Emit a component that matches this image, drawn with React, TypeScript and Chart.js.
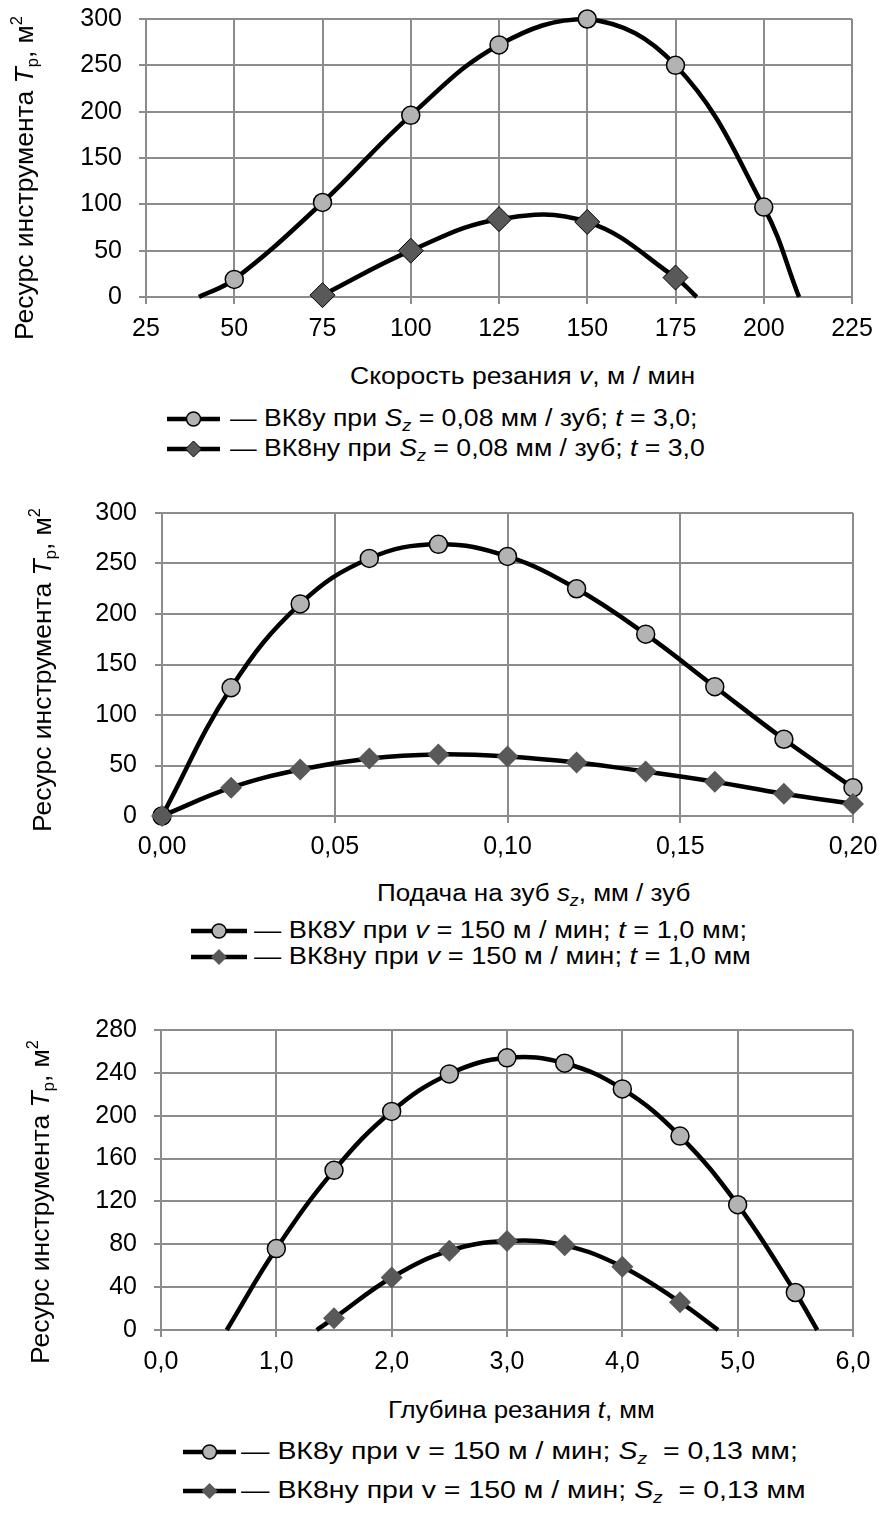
import React, { useEffect, useLayoutEffect, useRef, useState } from "react";
import { Chart, registerables } from "chart.js";

Chart.register(...registerables);

const FONT = "'Liberation Sans', Arial, Helvetica, sans-serif";
const GRID = "#8c8c8c";
const CIRCLE_FILL = "#b3b3b3";
const DIAMOND_FILL = "#595959";

// ---------- Chart 1: cutting speed ----------
const speedTicks = [25, 50, 75, 100, 125, 150, 175, 200, 225];
const speedTickLabels = ["25", "50", "75", "100", "125", "150", "175", "200", "225"];
const life300Ticks = [0, 50, 100, 150, 200, 250, 300];
const life300TickLabels = ["0", "50", "100", "150", "200", "250", "300"];

const speedVK8u = [50, 75, 100, 125, 150, 175, 200];
const lifeSpeedVK8u = [19, 102, 196, 272, 300, 250, 97];
const speedVK8uEndsX = [40, 210];
const speedVK8uEndsY = [0, 0];

const speedVK8nu = [75, 100, 125, 150, 175];
const lifeSpeedVK8nu = [2, 50, 84, 81, 21];
const speedVK8nuEndsX = [null, 181];
const speedVK8nuEndsY = [null, 0];

// ---------- Chart 2: feed per tooth ----------
const feedTicks = [0, 0.05, 0.1, 0.15, 0.2];
const feedTickLabels = ["0,00", "0,05", "0,10", "0,15", "0,20"];

const feedSz = [0, 0.02, 0.04, 0.06, 0.08, 0.1, 0.12, 0.14, 0.16, 0.18, 0.2];
const lifeFeedVK8U = [0, 127, 210, 255, 269, 257, 225, 180, 128, 76, 28];
const lifeFeedVK8nu = [0, 28, 46, 57, 61, 59, 53, 44, 34, 22, 12];

// ---------- Chart 3: depth of cut ----------
const depthTicks = [0, 1, 2, 3, 4, 5, 6];
const depthTickLabels = ["0,0", "1,0", "2,0", "3,0", "4,0", "5,0", "6,0"];
const life280Ticks = [0, 40, 80, 120, 160, 200, 240, 280];
const life280TickLabels = ["0", "40", "80", "120", "160", "200", "240", "280"];

const depthVK8u = [1.0, 1.5, 2.0, 2.5, 3.0, 3.5, 4.0, 4.5, 5.0, 5.5];
const lifeDepthVK8u = [76, 149, 204, 239, 254, 249, 225, 181, 117, 35];
const depthVK8uEndsX = [0.57, 5.69];
const depthVK8uEndsY = [0, 0];

const depthVK8nu = [1.5, 2.0, 2.5, 3.0, 3.5, 4.0, 4.5];
const lifeDepthVK8nu = [11, 49, 74, 83, 79, 59, 26];
const depthVK8nuEndsX = [1.35, 4.83];
const depthVK8nuEndsY = [0, 0];

type Ends = (number | null)[];

function buildSeries(
  xs: number[],
  ys: number[],
  endsX: Ends,
  endsY: Ends,
  kind: "circle" | "diamond",
  radius: number,
  outline: boolean
) {
  const data: { x: number; y: number }[] = [];
  const radii: number[] = [];
  if (endsX[0] !== null && endsY[0] !== null) {
    data.push({ x: endsX[0] as number, y: endsY[0] as number });
    radii.push(0);
  }
  xs.forEach((x, i) => {
    data.push({ x, y: ys[i] });
    radii.push(radius);
  });
  if (endsX[1] !== null && endsY[1] !== null) {
    data.push({ x: endsX[1] as number, y: endsY[1] as number });
    radii.push(0);
  }
  return {
    data,
    showLine: true,
    tension: 0.4,
    borderColor: "#000",
    borderWidth: 4.5,
    fill: false,
    clip: false as any,
    pointStyle: kind === "circle" ? "circle" : "rectRot",
    pointRadius: radii,
    pointHoverRadius: radii,
    pointBackgroundColor: kind === "circle" ? CIRCLE_FILL : DIAMOND_FILL,
    pointBorderColor: kind === "circle" ? "#000" : outline ? "#000" : DIAMOND_FILL,
    pointBorderWidth: kind === "circle" ? 1.5 : outline ? 1 : 0,
  };
}

interface Box {
  top: number;
  height: number;
  areaTop: number;
  areaBottom: number;
  areaLeft: number;
  areaRight: number;
}

function makeConfig(
  datasets: any[],
  xMin: number,
  xMax: number,
  xTicks: number[],
  xLabels: string[],
  yTicks: number[],
  yLabels: string[],
  box: Box,
  xPad: number,
  yPad: number
): any {
  const W = 879;
  const tickFont = { family: FONT, size: 25 };
  return {
    type: "scatter",
    data: { datasets },
    options: {
      responsive: false,
      animation: false,
      devicePixelRatio: 1,
      events: [],
      layout: {
        padding: {
          left: 0,
          top: box.areaTop - box.top,
          right: W - box.areaRight,
          bottom: 0,
        },
      },
      plugins: {
        legend: { display: false },
        tooltip: { enabled: false },
        title: { display: false },
      },
      scales: {
        x: {
          type: "linear",
          min: xMin,
          max: xMax,
          afterBuildTicks: (s: any) => {
            s.ticks = xTicks.map((v) => ({ value: v }));
          },
          afterFit: (s: any) => {
            s.height = box.top + box.height - box.areaBottom;
            s.paddingLeft = 0;
            s.paddingRight = 0;
          },
          ticks: {
            callback: (_v: any, i: number) => xLabels[i],
            font: tickFont,
            color: "#000",
            padding: xPad,
            maxRotation: 0,
            autoSkip: false,
          },
          grid: { color: GRID, lineWidth: 2, tickLength: 7, drawTicks: true },
          border: { color: GRID, width: 2 },
        },
        y: {
          type: "linear",
          min: yTicks[0],
          max: yTicks[yTicks.length - 1],
          afterBuildTicks: (s: any) => {
            s.ticks = yTicks.map((v) => ({ value: v }));
          },
          afterFit: (s: any) => {
            s.width = box.areaLeft;
            s.paddingTop = 0;
            s.paddingBottom = 0;
          },
          ticks: {
            callback: (_v: any, i: number) => yLabels[i],
            font: tickFont,
            color: "#000",
            padding: yPad,
            autoSkip: false,
          },
          grid: { color: GRID, lineWidth: 2, tickLength: 7, drawTicks: true },
          border: { color: GRID, width: 2 },
        },
      },
    },
  };
}

function ChartCanvas({ config, top, height }: { config: any; top: number; height: number }) {
  const ref = useRef<HTMLCanvasElement>(null);
  useEffect(() => {
    const chart = new Chart(ref.current as HTMLCanvasElement, config);
    return () => chart.destroy();
  }, [config]);
  return (
    <canvas
      ref={ref}
      width={879}
      height={height}
      style={{ position: "absolute", left: 0, top, width: 879, height }}
    />
  );
}

const subStyle: React.CSSProperties = {
  fontSize: "0.68em",
  verticalAlign: "-0.3em",
  lineHeight: 0,
};

function StretchText({
  left,
  right,
  cy,
  size,
  children,
}: {
  left: number;
  right: number;
  cy: number;
  size: number;
  children: React.ReactNode;
}) {
  const ref = useRef<HTMLDivElement>(null);
  const [sx, setSx] = useState(1);
  useLayoutEffect(() => {
    const w = (ref.current as HTMLDivElement).offsetWidth;
    if (w > 0) setSx((right - left) / w);
  }, [left, right]);
  return (
    <div
      ref={ref}
      style={{
        position: "absolute",
        left,
        top: cy - size * 0.59,
        fontFamily: FONT,
        fontSize: size,
        lineHeight: `${size * 1.2}px`,
        whiteSpace: "nowrap",
        transform: `scaleX(${sx})`,
        transformOrigin: "0 50%",
        color: "#000",
      }}
    >
      {children}
    </div>
  );
}

function Symbol({
  kind,
  left,
  right,
  cy,
  outline,
}: {
  kind: "circle" | "diamond";
  left: number;
  right: number;
  cy: number;
  outline: boolean;
}) {
  const w = right - left;
  const h = 24;
  const c = w / 2;
  return (
    <svg
      width={w}
      height={h}
      style={{ position: "absolute", left, top: cy - h / 2 }}
    >
      <line x1={0} y1={h / 2} x2={w} y2={h / 2} stroke="#000" strokeWidth={4.5} />
      {kind === "circle" ? (
        <circle cx={c} cy={h / 2} r={7} fill={CIRCLE_FILL} stroke="#000" strokeWidth={1.5} />
      ) : (
        <polygon
          points={`${c - 8},${h / 2} ${c},${h / 2 - 8} ${c + 8},${h / 2} ${c},${h / 2 + 8}`}
          fill={DIAMOND_FILL}
          stroke={outline ? "#000" : "none"}
          strokeWidth={1}
        />
      )}
    </svg>
  );
}

function Legend({
  symLeft,
  symRight,
  textLeft,
  row1Right,
  cy1,
  cy2,
  size,
  row1,
  row2,
  outline,
}: {
  symLeft: number;
  symRight: number;
  textLeft: number;
  row1Right: number;
  cy1: number;
  cy2: number;
  size: number;
  row1: React.ReactNode;
  row2: React.ReactNode;
  outline: boolean;
}) {
  const ref = useRef<HTMLDivElement>(null);
  const [sx, setSx] = useState(1);
  useLayoutEffect(() => {
    const w = (ref.current as HTMLDivElement).offsetWidth;
    if (w > 0) setSx((row1Right - textLeft) / w);
  }, [row1Right, textLeft]);
  const rowStyle = (cy: number): React.CSSProperties => ({
    position: "absolute",
    left: textLeft,
    top: cy - size * 0.59,
    fontFamily: FONT,
    fontSize: size,
    lineHeight: `${size * 1.2}px`,
    whiteSpace: "nowrap",
    transform: `scaleX(${sx})`,
    transformOrigin: "0 50%",
    color: "#000",
  });
  return (
    <>
      <Symbol kind="circle" left={symLeft} right={symRight} cy={cy1} outline={outline} />
      <Symbol kind="diamond" left={symLeft} right={symRight} cy={cy2} outline={outline} />
      <div ref={ref} style={rowStyle(cy1)}>
        {row1}
      </div>
      <div style={rowStyle(cy2)}>{row2}</div>
    </>
  );
}

function YTitle({ cx, cy }: { cx: number; cy: number }) {
  return (
    <div
      style={{
        position: "absolute",
        left: cx,
        top: cy,
        fontFamily: FONT,
        fontSize: 26.5,
        lineHeight: "32px",
        whiteSpace: "nowrap",
        color: "#000",
        transform: "translate(-50%, -50%) rotate(-90deg)",
      }}
    >
      Ресурс инструмента <i>T</i>
      <span style={{ fontSize: "0.62em", verticalAlign: "-0.3em", lineHeight: 0 }}>р</span>, м
      <span style={{ fontSize: "0.62em", verticalAlign: "0.7em", lineHeight: 0 }}>2</span>
    </div>
  );
}

const box1: Box = { top: 0, height: 345, areaTop: 19, areaBottom: 297, areaLeft: 146, areaRight: 852 };
const box2: Box = { top: 490, height: 375, areaTop: 513, areaBottom: 816, areaLeft: 162, areaRight: 853 };
const box3: Box = { top: 1005, height: 375, areaTop: 1030, areaBottom: 1330, areaLeft: 161, areaRight: 853 };

export default function App() {
  const config1 = React.useMemo(
    () =>
      makeConfig(
        [
          buildSeries(speedVK8nu, lifeSpeedVK8nu, speedVK8nuEndsX, speedVK8nuEndsY, "diamond", 12.5, true),
          buildSeries(speedVK8u, lifeSpeedVK8u, speedVK8uEndsX, speedVK8uEndsY, "circle", 9, true),
        ],
        25,
        225,
        speedTicks,
        speedTickLabels,
        life300Ticks,
        life300TickLabels,
        box1,
        10,
        17
      ),
    []
  );
  const config2 = React.useMemo(
    () =>
      makeConfig(
        [
          buildSeries(feedSz, lifeFeedVK8nu, [null, null], [null, null], "diamond", 11, false),
          buildSeries(feedSz, lifeFeedVK8U, [null, null], [null, null], "circle", 9, true),
        ],
        0,
        0.2,
        feedTicks,
        feedTickLabels,
        life300Ticks,
        life300TickLabels,
        box2,
        9,
        18
      ),
    []
  );
  const config3 = React.useMemo(
    () =>
      makeConfig(
        [
          buildSeries(depthVK8nu, lifeDepthVK8nu, depthVK8nuEndsX, depthVK8nuEndsY, "diamond", 11, false),
          buildSeries(depthVK8u, lifeDepthVK8u, depthVK8uEndsX, depthVK8uEndsY, "circle", 9, true),
        ],
        0,
        6,
        depthTicks,
        depthTickLabels,
        life280Ticks,
        life280TickLabels,
        box3,
        10,
        17
      ),
    []
  );

  return (
    <div
      style={{
        position: "absolute",
        left: 0,
        top: 0,
        width: 879,
        height: 1522,
        background: "#fff",
        overflow: "hidden",
      }}
    >
      <ChartCanvas config={config1} top={box1.top} height={box1.height} />
      <ChartCanvas config={config2} top={box2.top} height={box2.height} />
      <ChartCanvas config={config3} top={box3.top} height={box3.height} />

      <YTitle cx={24} cy={178} />
      <YTitle cx={42} cy={670} />
      <YTitle cx={40} cy={1202} />

      <StretchText left={350} right={695} cy={377} size={23}>
        Скорость резания <i>v</i>, м / мин
      </StretchText>
      <Legend
        symLeft={167}
        symRight={220}
        textLeft={230}
        row1Right={698}
        cy1={419}
        cy2={449}
        size={23}
        outline={true}
        row1={
          <>
            — ВК8у при <i>S</i>
            <i style={subStyle}>z</i> = 0,08 мм / зуб; <i>t</i> = 3,0;
          </>
        }
        row2={
          <>
            — ВК8ну при <i>S</i>
            <i style={subStyle}>z</i> = 0,08 мм / зуб; <i>t</i> = 3,0
          </>
        }
      />

      <StretchText left={377} right={690} cy={894} size={23}>
        Подача на зуб <i>s</i>
        <i style={subStyle}>z</i>, мм / зуб
      </StretchText>
      <Legend
        symLeft={191}
        symRight={247}
        textLeft={254}
        row1Right={747}
        cy1={931}
        cy2={957}
        size={23}
        outline={false}
        row1={
          <>
            — ВК8У при <i>v</i> = 150 м / мин; <i>t</i> = 1,0 мм;
          </>
        }
        row2={
          <>
            — ВК8ну при <i>v</i> = 150 м / мин; <i>t</i> = 1,0 мм
          </>
        }
      />

      <StretchText left={388} right={655} cy={1411} size={23}>
        Глубина резания <i>t</i>, мм
      </StretchText>
      <Legend
        symLeft={183}
        symRight={236}
        textLeft={241}
        row1Right={798}
        cy1={1452}
        cy2={1491}
        size={23}
        outline={false}
        row1={
          <>
            — ВК8у при v = 150 м / мин; <i>S</i>
            <i style={subStyle}>z</i>&nbsp; = 0,13 мм;
          </>
        }
        row2={
          <>
            — ВК8ну при v = 150 м / мин; <i>S</i>
            <i style={subStyle}>z</i>&nbsp; = 0,13 мм
          </>
        }
      />
    </div>
  );
}
